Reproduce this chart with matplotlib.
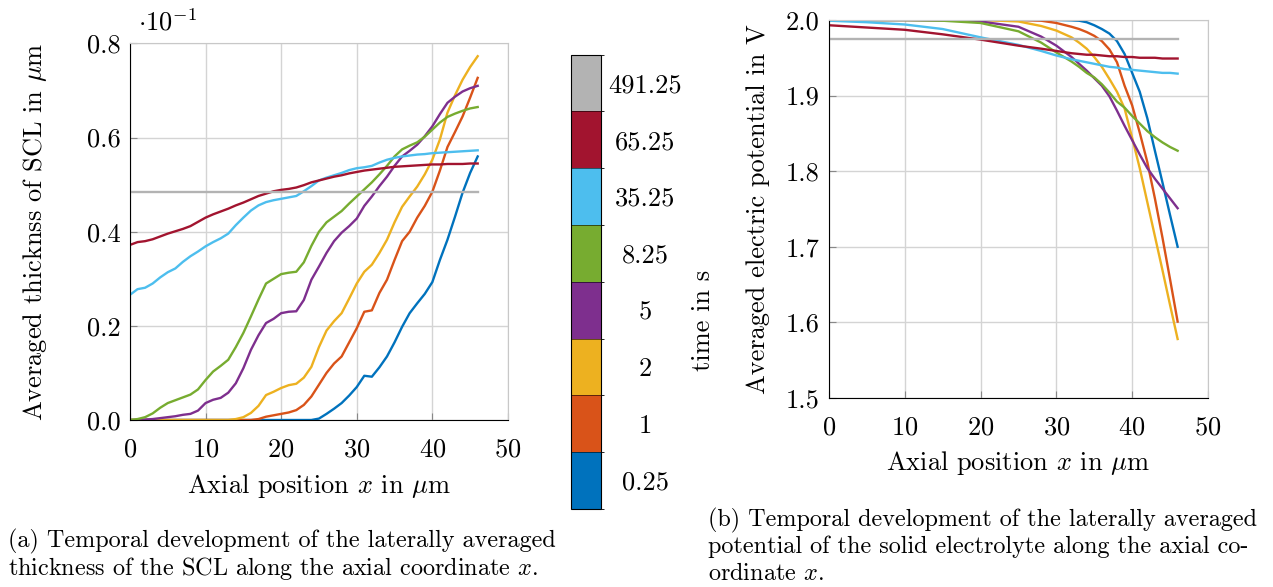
import numpy as np
import matplotlib as mpl
from matplotlib import pyplot as plt
from matplotlib.ticker import FormatStrFormatter

plt.rcParams['font.family'] = ['cmr10']
plt.rcParams['mathtext.fontset'] = 'cm'
plt.rcParams['axes.formatter.use_mathtext'] = True
plt.rcParams['font.size'] = 19

# time steps (s) and their colours
times = ['0.25', '1', '2', '5', '8.25', '35.25', '65.25', '491.25']
colors = ['#0072BD', '#D95319', '#EDB120', '#7E2F8E', '#77AC30', '#4DBEEE', '#A2142F', '#B3B3B3']

# (a) averaged SCL thickness (x 10^-1 um) over axial position 0..46 um
x_a = list(range(47))
scl_025 = [0]*25 + [0.003, 0.013, 0.024, 0.036, 0.052, 0.070, 0.094, 0.092, 0.112, 0.135, 0.165,
                    0.198, 0.227, 0.248, 0.268, 0.293, 0.340, 0.383, 0.432, 0.483, 0.525, 0.560]
scl_1 = [0]*17 + [0.002, 0.007, 0.010, 0.013, 0.016, 0.021, 0.032, 0.050, 0.075, 0.100, 0.120,
                  0.135, 0.165, 0.195, 0.230, 0.233, 0.270, 0.298, 0.340, 0.380, 0.400, 0.430,
                  0.455, 0.485, 0.530, 0.580, 0.612, 0.645, 0.685, 0.727]
scl_2 = [0]*14 + [0.002, 0.006, 0.015, 0.030, 0.053, 0.060, 0.068, 0.074, 0.077, 0.090, 0.113,
                  0.155, 0.190, 0.210, 0.227, 0.258, 0.290, 0.315, 0.330, 0.355, 0.383, 0.420,
                  0.453, 0.475, 0.496, 0.522, 0.553, 0.596, 0.653, 0.690, 0.723, 0.750, 0.773]
scl_5 = [0.000, 0.000, 0.001, 0.002, 0.004, 0.006, 0.008, 0.011, 0.013, 0.020, 0.036, 0.043,
         0.047, 0.058, 0.078, 0.110, 0.149, 0.180, 0.206, 0.215, 0.227, 0.230, 0.231, 0.255,
         0.298, 0.326, 0.355, 0.380, 0.398, 0.412, 0.428, 0.455, 0.475, 0.497, 0.517, 0.540,
         0.560, 0.572, 0.585, 0.603, 0.624, 0.650, 0.674, 0.687, 0.698, 0.705, 0.710]
scl_825 = [0.000, 0.002, 0.006, 0.014, 0.026, 0.036, 0.042, 0.048, 0.054, 0.065, 0.085, 0.103,
           0.115, 0.128, 0.155, 0.185, 0.220, 0.256, 0.290, 0.300, 0.310, 0.313, 0.315, 0.335,
           0.370, 0.400, 0.420, 0.432, 0.444, 0.460, 0.475, 0.490, 0.505, 0.522, 0.540, 0.560,
           0.575, 0.583, 0.590, 0.602, 0.617, 0.632, 0.644, 0.651, 0.657, 0.662, 0.665]
scl_3525 = [0.266, 0.278, 0.281, 0.290, 0.303, 0.314, 0.322, 0.336, 0.348, 0.358, 0.369, 0.378,
            0.386, 0.396, 0.414, 0.430, 0.445, 0.456, 0.463, 0.467, 0.470, 0.473, 0.476, 0.486,
            0.497, 0.509, 0.515, 0.520, 0.525, 0.531, 0.535, 0.537, 0.540, 0.547, 0.553, 0.557,
            0.560, 0.562, 0.564, 0.565, 0.567, 0.568, 0.569, 0.570, 0.571, 0.572, 0.573]
scl_6525 = [0.372, 0.378, 0.380, 0.384, 0.390, 0.396, 0.401, 0.406, 0.412, 0.421, 0.430, 0.437,
            0.443, 0.449, 0.456, 0.462, 0.469, 0.476, 0.481, 0.486, 0.489, 0.491, 0.494, 0.499,
            0.505, 0.509, 0.513, 0.517, 0.520, 0.524, 0.527, 0.530, 0.532, 0.534, 0.536, 0.538,
            0.539, 0.540, 0.541, 0.542, 0.543, 0.543, 0.544, 0.544, 0.544, 0.545, 0.545]
scl_49125 = [0.485]*47

# (b) averaged electric potential (V)
x_b = [0, 5, 10, 15, 20, 25, 28, 30, 32, 33, 34, 35, 36, 37, 38, 39, 40, 41, 42, 43, 44, 45, 46]
pot_025 = [2.0, 2.0, 2.0, 2.0, 2.0, 2.0, 2.0, 2.0, 1.9995, 1.999, 1.997, 1.993, 1.988, 1.982,
           1.972, 1.955, 1.930, 1.905, 1.870, 1.827, 1.785, 1.742, 1.700]
pot_1 = [2.0, 2.0, 2.0, 2.0, 2.0, 2.0, 1.999, 1.996, 1.991, 1.988, 1.984, 1.979, 1.972, 1.961,
         1.944, 1.913, 1.887, 1.851, 1.812, 1.764, 1.712, 1.657, 1.601]
pot_2 = [2.0, 2.0, 2.0, 2.0, 2.0, 1.998, 1.992, 1.986, 1.977, 1.970, 1.962, 1.951, 1.938, 1.922,
         1.905, 1.883, 1.844, 1.804, 1.759, 1.714, 1.669, 1.623, 1.578]
pot_5 = [2.0, 2.0, 2.0, 1.9995, 1.998, 1.991, 1.978, 1.966, 1.951, 1.942, 1.933, 1.923, 1.913,
         1.899, 1.880, 1.860, 1.841, 1.822, 1.804, 1.790, 1.777, 1.764, 1.751]
pot_825 = [2.0, 2.0, 2.0, 1.999, 1.996, 1.985, 1.970, 1.957, 1.945, 1.938, 1.930, 1.924, 1.915,
           1.904, 1.892, 1.884, 1.873, 1.863, 1.853, 1.845, 1.838, 1.832, 1.827]
pot_3525 = [1.999, 1.997, 1.994, 1.988, 1.977, 1.967, 1.959, 1.953, 1.948, 1.946, 1.944, 1.942,
            1.940, 1.938, 1.937, 1.935, 1.934, 1.933, 1.932, 1.931, 1.930, 1.930, 1.929]
pot_6525 = [1.993, 1.990, 1.987, 1.981, 1.974, 1.966, 1.962, 1.959, 1.956, 1.955, 1.954, 1.954,
            1.953, 1.952, 1.952, 1.951, 1.951, 1.950, 1.950, 1.950, 1.949, 1.949, 1.949]
pot_49125 = [1.975]*23

scl = [scl_025, scl_1, scl_2, scl_5, scl_825, scl_3525, scl_6525, scl_49125]
pot = [pot_025, pot_1, pot_2, pot_5, pot_825, pot_3525, pot_6525, pot_49125]


def style(ax):
    ax.grid(True, color='#d4d4d4', lw=1)
    ax.set_axisbelow(True)
    for s in ['top', 'right']:
        ax.spines[s].set_color('#c8c8c8')
    ax.tick_params(direction='in', length=5, color='#888888')
    ax.tick_params(axis='x', pad=13)
    ax.tick_params(axis='y', pad=7)


fig = plt.figure(figsize=(12.73, 5.87), dpi=100)

# (a)
ax1 = fig.add_axes([0.1021, 0.2845, 0.2969, 0.6414])
for y, c in zip(scl, colors):
    ax1.plot(x_a, y, color=c, lw=1.7)
ax1.set_xlim(0, 50)
ax1.set_ylim(0, 0.8)
ax1.set_xticks([0, 10, 20, 30, 40, 50])
ax1.set_yticks([0, 0.2, 0.4, 0.6, 0.8])
ax1.yaxis.set_major_formatter(FormatStrFormatter('%.1f'))
style(ax1)
ax1.set_xlabel(r'Axial position $x$ in $\mu$m', labelpad=7)
ax1.set_ylabel(r'Averaged thicknss of SCL in $\mu$m', va='center')
ax1.yaxis.set_label_coords(-0.251, 0.5)
ax1.text(0.02, 1.02, r'$\cdot 10^{-1}$', transform=ax1.transAxes, ha='left', va='bottom')

# colorbar
cax = fig.add_axes([0.4486, 0.133, 0.0236, 0.774])
cmap = mpl.colors.ListedColormap(colors)
norm = mpl.colors.BoundaryNorm(np.arange(9), cmap.N)
cb = mpl.colorbar.ColorbarBase(cax, cmap=cmap, norm=norm, drawedges=True)
cb.set_ticks(np.arange(8) + 0.5)
cb.set_ticklabels(times)
cax.tick_params(length=0, pad=32)
for lbl in cax.get_yticklabels():
    lbl.set_horizontalalignment('center')
fig.text(703 / 1273, 1 - 320 / 587, 'time in s', rotation=90, ha='center', va='center')

# (b)
ax2 = fig.add_axes([0.6512, 0.322, 0.2977, 0.644])
for y, c in zip(pot, colors):
    ax2.plot(x_b, y, color=c, lw=1.7)
ax2.set_xlim(0, 50)
ax2.set_ylim(1.5, 2.0)
ax2.set_xticks([0, 10, 20, 30, 40, 50])
ax2.set_yticks([1.5, 1.6, 1.7, 1.8, 1.9, 2.0])
ax2.yaxis.set_major_formatter(FormatStrFormatter('%.1f'))
style(ax2)
ax2.set_xlabel(r'Axial position $x$ in $\mu$m', labelpad=7)
ax2.set_ylabel('Averaged electric potential in V', va='center')
ax2.yaxis.set_label_coords(-0.187, 0.5)

# captions
cap = 17.4
fig.text(8 / 1273, 1 - 541 / 587, '(a) Temporal development of the laterally averaged', fontsize=cap, va='center')
fig.text(8 / 1273, 1 - 568 / 587, r'thickness of the SCL along the axial coordinate $x$.', fontsize=cap, va='center')
fig.text(708 / 1273, 1 - 520 / 587, '(b) Temporal development of the laterally averaged', fontsize=cap, va='center')
fig.text(708 / 1273, 1 - 547 / 587, 'potential of the solid electrolyte along the axial co-', fontsize=cap, va='center')
fig.text(708 / 1273, 1 - 574 / 587, r'ordinate $x$.', fontsize=cap, va='center')

fig.savefig('out.png', dpi=100)
